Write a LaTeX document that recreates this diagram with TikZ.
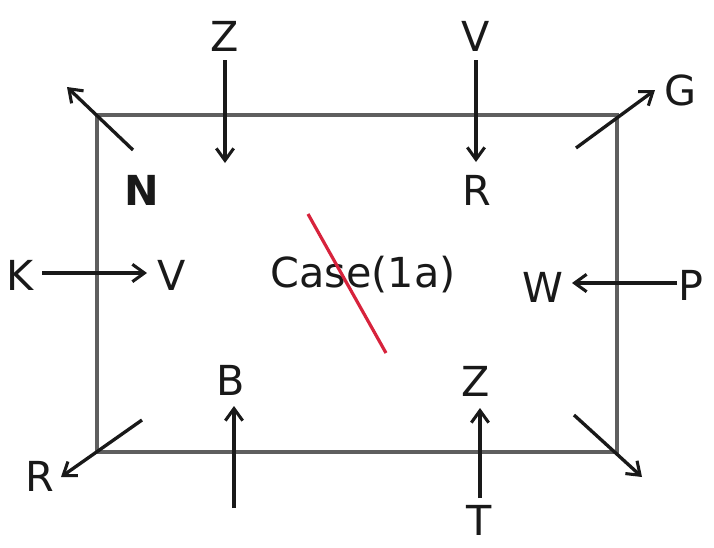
\documentclass[tikz,border=0pt]{standalone}
\usepackage{fontspec}
\setmainfont{DejaVu Sans}
\usetikzlibrary{arrows.meta}
\definecolor{boxgray}{RGB}{95,95,95}
\definecolor{inkdark}{RGB}{25,25,25}
\definecolor{strike}{RGB}{215,35,60}
\begin{document}
\begin{tikzpicture}[x=0.75pt,y=-0.75pt,
  lbl/.style={inner sep=0pt,text=inkdark,font=\fontsize{31}{36}\selectfont},
  arr/.style={draw=inkdark,line width=2.5pt,-{Straight Barb[length=9pt,width=13pt,line width=2.3pt]}},
  frame/.style={draw=boxgray,line width=2.5pt}]
\useasboundingbox (0,0) rectangle (714,547);
\clip (0,0) rectangle (714,547);
% frame
\draw[frame] (97,115) rectangle (617,452);
% labels
\node[lbl] (zt) at (225,36) {Z};
\node[lbl] (vt) at (476,36) {V};
\node[lbl,font=\fontsize{31}{36}\selectfont\bfseries] (n) at (142,190) {N};
\node[lbl] (r1) at (477,190) {R};
\node[lbl] (g) at (681,90) {G};
\node[lbl] (k) at (20,275) {K};
\node[lbl] (vm) at (172,275) {V};
\node[lbl] (case) at (363,275) {Case(1a)};
\node[lbl] (w) at (543,287) {W};
\node[lbl] (p) at (691,285) {P};
\node[lbl] (b) at (231,380) {B};
\node[lbl] (zb) at (476,381) {Z};
\node[lbl] (r2) at (40,476) {R};
\node[lbl] (t) at (479,520) {T};
% coordinates
\coordinate (zt1) at (225,60);  \coordinate (zt2) at (225,163);
\coordinate (vt1) at (476,60);  \coordinate (vt2) at (476,162);
\coordinate (n1) at (133,150);  \coordinate (n2) at (67,87);
\coordinate (g1) at (576,148);  \coordinate (g2) at (655,90);
\coordinate (k1) at (42,273);   \coordinate (k2) at (147,273);
\coordinate (p1) at (677,283);  \coordinate (p2) at (572,283);
\coordinate (b1) at (234,508);  \coordinate (b2) at (234,406);
\coordinate (t1) at (480,498);  \coordinate (t2) at (480,408);
\coordinate (bl1) at (142,420); \coordinate (bl2) at (61,477);
\coordinate (br1) at (574,415); \coordinate (br2) at (642,477);
\coordinate (s1) at (308,214);  \coordinate (s2) at (386,353);
% arrows
\draw[arr] (zt1) -- (zt2);
\draw[arr] (vt1) -- (vt2);
\draw[arr] (n1) -- (n2);
\draw[arr] (g1) -- (g2);
\draw[arr] (k1) -- (k2);
\draw[arr] (p1) -- (p2);
\draw[arr] (b1) -- (b2);
\draw[arr] (t1) -- (t2);
\draw[arr] (bl1) -- (bl2);
\draw[arr] (br1) -- (br2);
% strike line
\draw[strike,line width=2.4pt] (s1) -- (s2);
\end{tikzpicture}
\end{document}
